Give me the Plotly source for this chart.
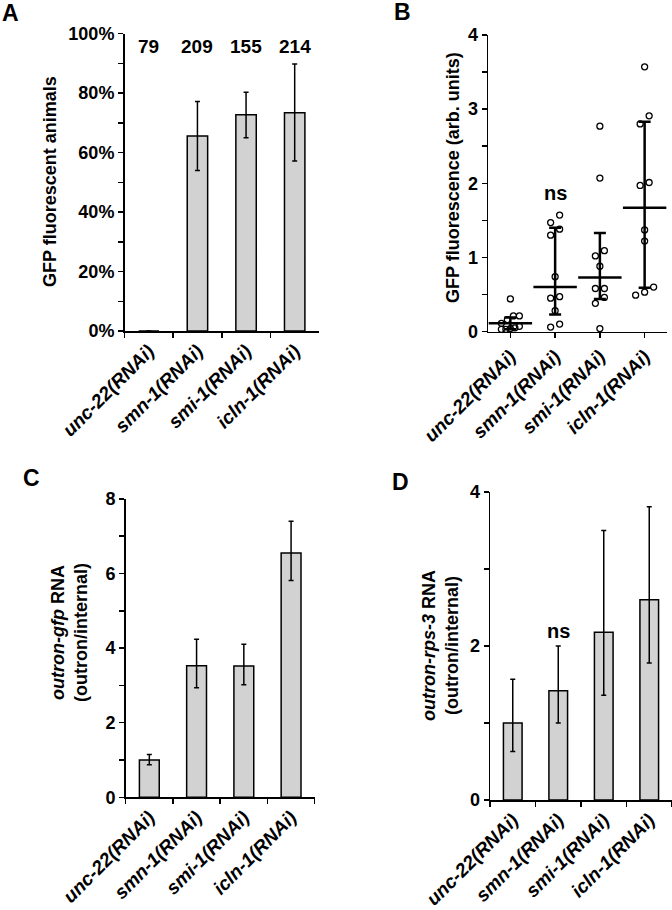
import plotly.graph_objects as go

categories = ["unc-22(RNAi)", "smn-1(RNAi)", "smi-1(RNAi)", "icln-1(RNAi)"]

# Panel A: fraction of GFP fluorescent animals
a_frac = [0.0, 0.656, 0.727, 0.734]
a_upper = [0.0, 0.772, 0.803, 0.898]
a_lower = [0.0, 0.540, 0.650, 0.572]
a_n = ["79", "209", "155", "214"]

# Panel B: GFP fluorescence per animal
b_unc22 = [0.44, 0.21, 0.21, 0.16, 0.11, 0.07, 0.05, 0.04, 0.03, 0.03]
b_smn1 = [1.57, 1.47, 1.38, 1.30, 0.74, 0.47, 0.45, 0.28, 0.10, 0.06]
b_smi1 = [2.77, 2.07, 1.09, 1.02, 0.88, 0.58, 0.58, 0.46, 0.38, 0.04]
b_icln1 = [3.57, 2.91, 2.80, 2.01, 1.97, 1.37, 1.22, 0.60, 0.53, 0.49]
b_center = [0.11, 0.60, 0.73, 1.67]
b_upper = [0.19, 1.40, 1.33, 2.83]
b_lower = [0.03, 0.23, 0.44, 0.59]

# Panel C: outron-gfp RNA
c_mean = [1.00, 3.53, 3.52, 6.55]
c_upper = [1.15, 4.24, 4.10, 7.40]
c_lower = [0.87, 2.94, 3.02, 5.81]

# Panel D: outron-rps-3 RNA
d_mean = [1.00, 1.42, 2.18, 2.60]
d_upper = [1.57, 2.00, 3.50, 3.81]
d_lower = [0.63, 1.00, 1.36, 1.78]

W, H = 672, 910
FONT = "Liberation Sans"
BAR_FILL = "rgb(210,210,210)"


def xd(x0, x1):
    return [x0 / W, x1 / W]


def yd(top, bottom):
    return [1 - bottom / H, 1 - top / H]


def px_x(x):
    return x / W


def px_y(y):
    return 1 - y / H


fig = go.Figure()

err_style = dict(type="data", symmetric=False, color="black", thickness=1.5, width=2.5)

# ---- Panel A ----
fig.add_trace(go.Bar(
    x=categories, y=a_frac, width=0.42,
    marker=dict(color=BAR_FILL, line=dict(color="black", width=1.5)),
    error_y=dict(array=[u - m for u, m in zip(a_upper, a_frac)],
                 arrayminus=[m - l for m, l in zip(a_frac, a_lower)], **err_style),
    xaxis="x", yaxis="y", showlegend=False))

# ---- Panel B ----
step_px = 4.5
bx_scale = (667 - 488) / 4.0
by_scale = (331.5 - 35) / 4.0
groups = [b_unc22, b_smn1, b_smi1, b_icln1]
for gi, vals in enumerate(groups):
    order = sorted(vals, reverse=True)
    rows = []
    for v in order:
        if rows and (rows[-1][0] - v) * by_scale < 8.5:
            rows[-1].append(v)
        else:
            rows.append([v])
    xs, ys = [], []
    for row in rows:
        row_sorted = sorted(row)
        n = len(row_sorted)
        if n == 1:
            offs = [0.0]
        elif n == 2:
            offs = [-1.0, 1.0]
        else:
            offs = [-2.0 + 4.0 * k / (n - 1) for k in range(n)]
        for v, o in zip(row_sorted, offs):
            xs.append(gi + o * step_px / bx_scale)
            ys.append(v)
    fig.add_trace(go.Scatter(
        x=xs, y=ys, mode="markers",
        marker=dict(symbol="circle-open", size=6, color="black", line=dict(width=1.3, color="black")),
        xaxis="x2", yaxis="y2", showlegend=False, cliponaxis=False))

fig.add_trace(go.Scatter(
    x=list(range(len(categories))), y=b_center, mode="markers",
    marker=dict(symbol="line-ew", size=31, color="black", line=dict(width=2.5, color="black")),
    error_y=dict(type="data", symmetric=False,
                 array=[u - m for u, m in zip(b_upper, b_center)],
                 arrayminus=[m - l for m, l in zip(b_center, b_lower)],
                 color="black", thickness=2.5, width=6),
    xaxis="x2", yaxis="y2", showlegend=False, cliponaxis=False))

# ---- Panel C ----
fig.add_trace(go.Bar(
    x=categories, y=c_mean, width=0.42,
    marker=dict(color=BAR_FILL, line=dict(color="black", width=1.5)),
    error_y=dict(array=[u - m for u, m in zip(c_upper, c_mean)],
                 arrayminus=[m - l for m, l in zip(c_mean, c_lower)], **err_style),
    xaxis="x3", yaxis="y3", showlegend=False))

# ---- Panel D ----
fig.add_trace(go.Bar(
    x=categories, y=d_mean, width=0.41,
    marker=dict(color=BAR_FILL, line=dict(color="black", width=1.5)),
    error_y=dict(array=[u - m for u, m in zip(d_upper, d_mean)],
                 arrayminus=[m - l for m, l in zip(d_mean, d_lower)], **err_style),
    xaxis="x4", yaxis="y4", showlegend=False))

tick_font = dict(family=FONT, size=18, color="black", weight="bold")
xtick_font = dict(family=FONT, size=19, color="black", weight="bold", style="italic")

common_x = dict(showline=True, linecolor="black", linewidth=1.5, ticks="outside",
                ticklen=5, tickwidth=1.5, tickcolor="black", tickangle=-45,
                tickfont=xtick_font, showgrid=False, zeroline=False, fixedrange=True,
                automargin=False)
common_y = dict(showline=True, linecolor="black", linewidth=1.5, ticks="outside",
                ticklen=5, tickwidth=1.5, tickcolor="black", tickfont=tick_font,
                showgrid=False, zeroline=False, fixedrange=True, automargin=False)


def minor(dt):
    return dict(dtick=dt, ticks="outside", ticklen=5, tickwidth=1.5, tickcolor="black", showgrid=False)


fig.update_layout(
    width=W, height=H, margin=dict(l=0, r=0, t=0, b=0, autoexpand=False),
    paper_bgcolor="white", plot_bgcolor="white",
    font=dict(family=FONT, color="black"),
    xaxis=dict(domain=xd(124.5, 319), anchor="y", type="category", tickson="boundaries",
               range=[-0.5, 3.5], **common_x),
    yaxis=dict(domain=yd(33.6, 331), anchor="x", range=[0, 1], tickvals=[0, 0.2, 0.4, 0.6, 0.8, 1.0],
               tickformat=".0%", minor=minor(0.1), **common_y),
    xaxis2=dict(domain=xd(488, 667), anchor="y2", range=[-0.5, 3.5],
                tickvals=list(range(len(categories))), ticktext=categories, **common_x),
    yaxis2=dict(domain=yd(35, 331.5), anchor="x2", range=[0, 4], tickvals=[0, 1, 2, 3, 4],
                minor=minor(0.5), **common_y),
    xaxis3=dict(domain=xd(125.7, 314.7), anchor="y3", type="category", tickson="boundaries",
                range=[-0.5, 3.5], **common_x),
    yaxis3=dict(domain=yd(498.9, 797.3), anchor="x3", range=[0, 8], tickvals=[0, 2, 4, 6, 8],
                minor=minor(1), **common_y),
    xaxis4=dict(domain=xd(490, 672), anchor="y4", type="category", tickson="boundaries",
                range=[-0.5, 3.5], **common_x),
    yaxis4=dict(domain=yd(492.1, 800), anchor="x4", range=[0, 4], tickvals=[0, 2, 4],
                minor=minor(1), **common_y),
)

ann = []
title_font = dict(family=FONT, size=18, color="black", weight="bold")
letter_font = dict(family=FONT, size=23, color="black", weight="bold")

# sample sizes over panel A
for c, n in zip(categories, a_n):
    ann.append(dict(x=c, y=0.955, xref="x", yref="y", text=n, showarrow=False,
                    font=dict(family=FONT, size=19, color="black", weight="bold"),
                    xanchor="center", yanchor="middle"))
# ns labels
ann.append(dict(x=1, y=1.87, xref="x2", yref="y2", text="ns", showarrow=False,
                font=dict(family=FONT, size=20, color="black", weight="bold")))
ann.append(dict(x=categories[1], y=2.2, xref="x4", yref="y4", text="ns", showarrow=False,
                font=dict(family=FONT, size=20, color="black", weight="bold")))

# y-axis titles
ann.append(dict(x=px_x(50), y=px_y(182), xref="paper", yref="paper", text="GFP fluorescent animals",
                textangle=-90, showarrow=False, font=title_font, xanchor="center", yanchor="middle"))
ann.append(dict(x=px_x(453), y=px_y(178), xref="paper", yref="paper", text="GFP fluorescence (arb. units)",
                textangle=-90, showarrow=False, font=title_font, xanchor="center", yanchor="middle"))
ann.append(dict(x=px_x(69), y=px_y(633), xref="paper", yref="paper",
                text="<i>outron-gfp</i> RNA<br>(outron/internal)",
                textangle=-90, showarrow=False, font=title_font, xanchor="center", yanchor="middle"))
ann.append(dict(x=px_x(440), y=px_y(646), xref="paper", yref="paper",
                text="<i>outron-rps-3</i> RNA<br>(outron/internal)",
                textangle=-90, showarrow=False, font=title_font, xanchor="center", yanchor="middle"))

# panel letters
for t, x, y in [("A", 10, 13), ("B", 402, 12), ("C", 31, 478), ("D", 400, 482)]:
    ann.append(dict(x=px_x(x), y=px_y(y), xref="paper", yref="paper", text=t, showarrow=False,
                    font=letter_font, xanchor="center", yanchor="middle"))

fig.update_layout(annotations=ann)
fig.write_html("out.html", config={"displayModeBar": False, "staticPlot": True},
               post_script="document.body.style.margin='0';document.body.style.padding='0';"
                           "document.body.style.overflow='hidden';")
